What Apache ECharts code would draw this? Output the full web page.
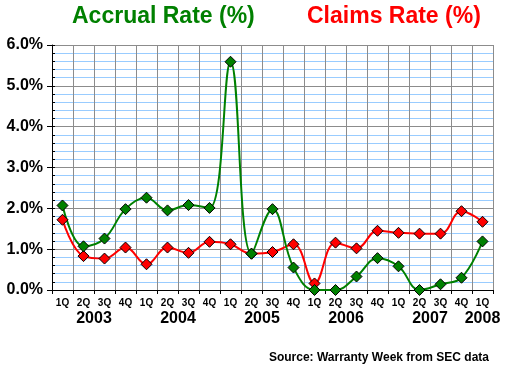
<!DOCTYPE html>
<html>
<head>
<meta charset="utf-8">
<script src="https://cdn.jsdelivr.net/npm/echarts@6/dist/echarts.min.js"></script>
<style>
html,body{margin:0;padding:0;background:#fff;}
#chart{width:505px;height:365px;}
</style>
</head>
<body>
<div id="chart"></div>
<script>
// ---- data ----
var quarterLabels = ['1Q','2Q','3Q','4Q','1Q','2Q','3Q','4Q','1Q','2Q','3Q','4Q','1Q','2Q','3Q','4Q','1Q','2Q','3Q','4Q','1Q'];
var quarterYears  = [2003,2003,2003,2003,2004,2004,2004,2004,2005,2005,2005,2005,2006,2006,2006,2006,2007,2007,2007,2007,2008];
var accrualRate = [2.07,1.07,1.26,1.98,2.26,1.95,2.08,2.01,5.59,0.89,1.98,0.55,0.00,0.00,0.33,0.78,0.58,0.00,0.14,0.30,1.19];
var claimsRate  = [1.72,0.83,0.77,1.04,0.63,1.04,0.91,1.18,1.12,0.89,0.93,1.12,0.16,1.16,1.02,1.45,1.40,1.38,1.38,1.93,1.67];
var yTicks = [0,1,2,3,4,5,6];

// year label positions derived from the quarter data (centre of each year's quarters)
var yearCenters = {};
(function(){
  var groups = {};
  quarterYears.forEach(function(y,i){ (groups[y] = groups[y] || []).push(i); });
  Object.keys(groups).forEach(function(y){
    var g = groups[y];
    var c = (g[0] + g[g.length-1]) / 2 + 0.5;
    yearCenters[c.toFixed(1)] = String(y);
  });
})();

var FONT = '"Liberation Sans", Arial, sans-serif';
var chart = echarts.init(document.getElementById('chart'), null, {renderer:'canvas'});
chart.setOption({
  backgroundColor:'#ffffff',
  animation:false,
  title:[
    {text:'Accrual Rate (%)', left:67, top:0,
     textStyle:{color:'#008000', fontSize:23, fontWeight:'bold', fontFamily:FONT}},
    {text:'Claims Rate (%)', left:302, top:0,
     textStyle:{color:'#ff0000', fontSize:23, fontWeight:'bold', fontFamily:FONT}},
    {text:'Source: Warranty Week from SEC data', right:11, top:347,
     textStyle:{color:'#000', fontSize:12, fontWeight:'bold', fontFamily:FONT}}
  ],
  grid:{left:52, right:12, top:45, bottom:75, containLabel:false},
  xAxis:[
    {type:'category', data:quarterLabels, boundaryGap:true, position:'bottom',
     axisLine:{show:true, lineStyle:{color:'#000', width:1}},
     axisTick:{show:true, length:4, alignWithLabel:false, lineStyle:{color:'#000'}},
     axisLabel:{interval:0, margin:8, color:'#000', fontSize:10, fontWeight:'bold', fontFamily:FONT},
     splitLine:{show:true, interval:0, lineStyle:{color:'#8c8c8c', width:1}}},
    {type:'value', min:0, max:quarterLabels.length, interval:0.5, position:'bottom',
     axisLine:{show:false}, axisTick:{show:false}, splitLine:{show:false},
     axisLabel:{show:true, margin:21, color:'#000', fontSize:16, fontWeight:'bold', fontFamily:FONT,
       showMinLabel:true, showMaxLabel:true,
       formatter:function(v){ return yearCenters[v.toFixed(1)] || ''; }}}
  ],
  yAxis:[
    {type:'value', min:yTicks[0], max:yTicks[yTicks.length-1], interval:1, position:'left',
     axisLine:{show:true, lineStyle:{color:'#000', width:1}},
     axisTick:{show:true, length:5, inside:false, lineStyle:{color:'#000'}},
     axisLabel:{margin:9, color:'#000', fontSize:16, fontWeight:'bold', fontFamily:FONT,
       formatter:function(v){ return v.toFixed(1) + '%'; }},
     splitLine:{show:true, lineStyle:{color:'#8c8c8c', width:1}},
     minorTick:{show:false, splitNumber:5},
     minorSplitLine:{show:true, lineStyle:{color:'#99ccff', width:1}}},
    {type:'value', min:0, max:6, interval:0.2, position:'left', offset:0,
     axisLine:{show:false}, axisLabel:{show:false}, splitLine:{show:false},
     axisTick:{show:true, inside:true, length:3, lineStyle:{color:'#000'}}}
  ],
  series:[
    {name:'Claims Rate', type:'line', data:claimsRate, xAxisIndex:0, yAxisIndex:0,
     smooth:0.4, symbol:'diamond', symbolSize:11,
     lineStyle:{color:'#ff0000', width:2},
     itemStyle:{color:'#ff0000', borderColor:'#000', borderWidth:1}},
    {name:'Accrual Rate', type:'line', data:accrualRate, xAxisIndex:0, yAxisIndex:0,
     smooth:0.4, symbol:'diamond', symbolSize:11,
     lineStyle:{color:'#008000', width:2},
     itemStyle:{color:'#008000', borderColor:'#000', borderWidth:1}}
  ]
});
</script>
</body>
</html>
